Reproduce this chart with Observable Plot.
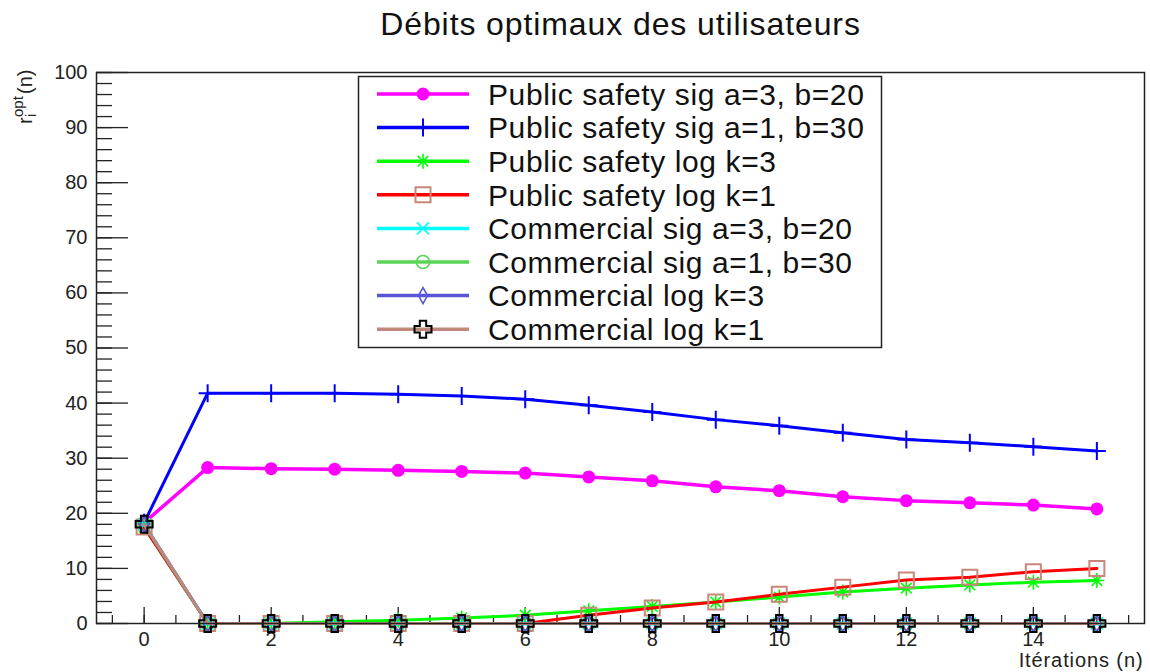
<!DOCTYPE html>
<html>
<head>
<meta charset="utf-8">
<script src="https://cdn.jsdelivr.net/npm/d3@7"></script>
<script src="https://cdn.jsdelivr.net/npm/@observablehq/plot@0.6"></script>
<style>
  body { margin: 0; background: #fff; }
  #chart { width: 1150px; height: 672px; }
</style>
</head>
<body>
<div id="chart"></div>
<script>
// ---- data ----
const title = "Débits optimaux des utilisateurs";
const xLabel = "Itérations (n)";
const iterations = [0, 1, 2, 3, 4, 5, 6, 7, 8, 9, 10, 11, 12, 13, 14, 15];
const xTickLabels = [0, 2, 4, 6, 8, 10, 12, 14];
const yTickLabels = [0, 10, 20, 30, 40, 50, 60, 70, 80, 90, 100];

const seriesNames = [
  "Public safety sig a=3, b=20",
  "Public safety sig a=1, b=30",
  "Public safety log k=3",
  "Public safety log k=1",
  "Commercial sig a=3, b=20",
  "Commercial sig a=1, b=30",
  "Commercial log k=3",
  "Commercial log k=1"
];

const psSigA3B20 = [18.3, 28.3, 28.1, 28.0, 27.8, 27.6, 27.3, 26.6, 25.9, 24.8, 24.1, 23.0, 22.3, 21.9, 21.5, 20.8];
const psSigA1B30 = [18.3, 41.8, 41.8, 41.8, 41.6, 41.3, 40.7, 39.6, 38.4, 37.0, 35.9, 34.6, 33.4, 32.8, 32.1, 31.3];
const psLogK3    = [17.5, 0, 0, 0.3, 0.6, 1.0, 1.5, 2.3, 3.1, 3.9, 4.8, 5.7, 6.4, 7.0, 7.5, 7.8];
const psLogK1    = [17.5, 0, 0, 0, 0, 0, 0, 1.5, 2.8, 3.9, 5.3, 6.6, 7.9, 8.4, 9.4, 10.0];
const comSigA3B20 = [18.0, 0, 0, 0, 0, 0, 0, 0, 0, 0, 0, 0, 0, 0, 0, 0];
const comSigA1B30 = [18.0, 0, 0, 0, 0, 0, 0, 0, 0, 0, 0, 0, 0, 0, 0, 0];
const comLogK3    = [18.0, 0, 0, 0, 0, 0, 0, 0, 0, 0, 0, 0, 0, 0, 0, 0];
const comLogK1    = [18.0, 0, 0, 0, 0, 0, 0, 0, 0, 0, 0, 0, 0, 0, 0, 0];

const seriesValues = [psSigA3B20, psSigA1B30, psLogK3, psLogK1, comSigA3B20, comSigA1B30, comLogK3, comLogK1];

const lineColors   = ["#ff00ff", "#0000ff", "#00ff00", "#ff0000", "#00ffff", "#59d454", "#5954d8", "#c0887c"];
const markerColors = ["#ff00ff", "#0000ff", "#00ff00", "#c8877a", "#00ffff", "#59d454", "#5954d8", "#000000"];
const lineWidths   = [3.5, 3, 3, 3, 3, 3, 3, 3];

// ---- marker shapes (fixed pixel size) ----
const plusSym = { draw(c) { c.moveTo(-9, 0); c.lineTo(9, 0); c.moveTo(0, -9); c.lineTo(0, 9); } };
const starSym = { draw(c) {
  const r = 7.5, d = r * Math.SQRT1_2;
  c.moveTo(-r, 0); c.lineTo(r, 0); c.moveTo(0, -r); c.lineTo(0, r);
  c.moveTo(-d, -d); c.lineTo(d, d); c.moveTo(-d, d); c.lineTo(d, -d);
} };
const squareSym = { draw(c) { const s = 7.5; c.moveTo(-s, -s); c.lineTo(s, -s); c.lineTo(s, s); c.lineTo(-s, s); c.closePath(); } };
const timesSym = { draw(c) { const s = 6; c.moveTo(-s, -s); c.lineTo(s, s); c.moveTo(-s, s); c.lineTo(s, -s); } };
const ringSym = { draw(c) { c.moveTo(6.5, 0); c.arc(0, 0, 6.5, 0, 2 * Math.PI); c.closePath(); } };
const diamondSym = { draw(c) { c.moveTo(0, -8); c.lineTo(4.5, 0); c.lineTo(0, 8); c.lineTo(-4.5, 0); c.closePath(); } };
const openCrossSym = { draw(c) {
  const a = 3.2, b = 8.5;
  c.moveTo(-a, -b); c.lineTo(a, -b); c.lineTo(a, -a); c.lineTo(b, -a); c.lineTo(b, a); c.lineTo(a, a);
  c.lineTo(a, b); c.lineTo(-a, b); c.lineTo(-a, a); c.lineTo(-b, a); c.lineTo(-b, -a); c.lineTo(-a, -a); c.closePath();
} };
const discSym = { draw(c) { c.moveTo(6.5, 0); c.arc(0, 0, 6.5, 0, 2 * Math.PI); c.closePath(); } };

const markerSymbols = [discSym, plusSym, starSym, squareSym, timesSym, ringSym, diamondSym, openCrossSym];
const markerFilled  = [true, false, false, false, false, false, false, false];
const markerWidths  = [0, 2, 1.6, 2, 1.6, 1.6, 1.6, 2];

const fontFamily = "'Liberation Sans', Arial, Helvetica, sans-serif";

// ---- series: each line followed by its markers ----
const seriesMarks = [];
seriesValues.forEach((vals, i) => {
  const data = iterations.map((x, j) => ({ x, y: vals[j] }));
  seriesMarks.push(Plot.line(data, { x: "x", y: "y", stroke: lineColors[i], strokeWidth: lineWidths[i] }));
  seriesMarks.push(Plot.dot(data, {
    x: "x", y: "y",
    symbol: markerSymbols[i],
    fill: markerFilled[i] ? markerColors[i] : "none",
    stroke: markerFilled[i] ? "none" : markerColors[i],
    strokeWidth: markerWidths[i]
  }));
});

const chart = Plot.plot({
  width: 1150,
  height: 672,
  marginLeft: 96,
  marginRight: 6,
  marginTop: 72,
  marginBottom: 49,
  style: { fontFamily, fontSize: "20px", background: "#fff", color: "#000" },
  x: { domain: [-0.75, 15.75] },
  y: { domain: [0, 100] },
  marks: [
    // inward ticks, ROOT style
    Plot.axisX({ ticks: d3.range(-0.5, 15.6, 0.5), tickSize: -8, fill: "none", label: null, stroke: "#222", strokeWidth: 1.3 }),
    Plot.axisX({ ticks: d3.range(0, 15, 2), tickSize: -16, fill: "none", label: null, stroke: "#222", strokeWidth: 1.3 }),
    Plot.axisX({ ticks: xTickLabels, tickSize: 0, tickPadding: 8, fontSize: 20, label: null, fill: "#222" }),
    Plot.axisY({ ticks: d3.range(0, 101, 2), tickSize: -16, fill: "none", label: null, stroke: "#222", strokeWidth: 1.3 }),
    Plot.axisY({ ticks: yTickLabels, tickSize: -32, fill: "none", label: null, stroke: "#222", strokeWidth: 1.3 }),
    Plot.axisY({ ticks: yTickLabels, tickSize: 0, tickPadding: 9, fontSize: 20, label: null, fill: "#222" }),
    ...seriesMarks,
    Plot.frame({ stroke: "#222", strokeWidth: 1.5 }),
    Plot.text([title], { frameAnchor: "top", dy: -60, fontSize: 32, fill: "#111", text: d => d }),
    Plot.text([xLabel], { frameAnchor: "bottom-right", textAnchor: "end", dx: -1, dy: 43, fontSize: 20, fill: "#222", text: d => d })
  ]
});

document.getElementById("chart").appendChild(chart);

const svg = d3.select(chart);
svg.selectAll("g[aria-label='text'] text").style("letter-spacing", "0.9px");

// y-axis title: r_i^opt(n), rotated
const yt = svg.append("text")
  .attr("transform", "translate(32,124) rotate(-90)")
  .attr("text-anchor", "start")
  .attr("font-family", fontFamily)
  .attr("font-size", 20)
  .attr("fill", "#222");
yt.append("tspan").attr("x", 0).attr("y", 0).text("r");
yt.append("tspan").attr("x", 7).attr("y", -9).attr("font-size", 15).text("opt");
yt.append("tspan").attr("x", 7).attr("y", 4).attr("font-size", 15).text("i");
yt.append("tspan").attr("x", 30).attr("y", 0).text("(n)");

// legend box
const lg = svg.append("g").attr("font-family", fontFamily).attr("text-anchor", "start");
lg.append("rect")
  .attr("x", 358.5).attr("y", 76.5).attr("width", 523).attr("height", 271)
  .attr("fill", "#fff").attr("stroke", "#222").attr("stroke-width", 1.5);
seriesNames.forEach((name, i) => {
  const cy = 94 + i * 33.6;
  lg.append("line")
    .attr("x1", 377).attr("x2", 469).attr("y1", cy).attr("y2", cy)
    .attr("stroke", lineColors[i]).attr("stroke-width", 3.5);
  lg.append("path")
    .attr("transform", `translate(423,${cy})`)
    .attr("d", d3.symbol(markerSymbols[i])())
    .attr("fill", markerFilled[i] ? markerColors[i] : "none")
    .attr("stroke", markerFilled[i] ? "none" : markerColors[i])
    .attr("stroke-width", markerWidths[i]);
  lg.append("text")
    .attr("x", 488).attr("y", cy).attr("dy", "0.36em")
    .attr("font-size", 30).attr("letter-spacing", "0.6px").attr("fill", "#111")
    .text(name);
});
</script>
</body>
</html>
